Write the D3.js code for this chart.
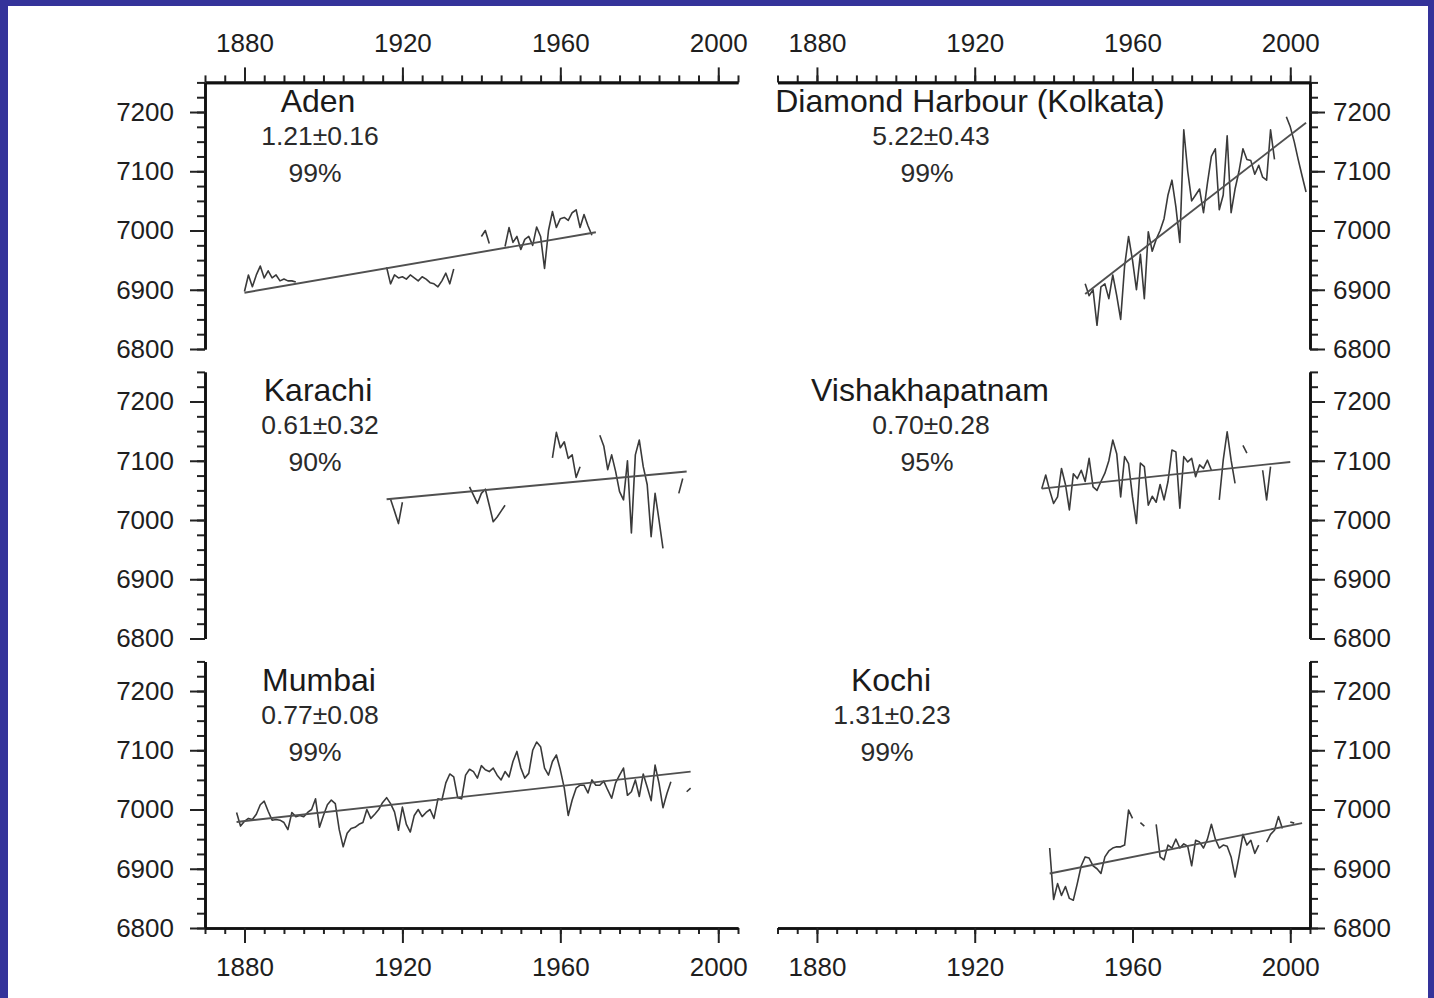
<!DOCTYPE html>
<html><head><meta charset="utf-8">
<script src="https://cdn.jsdelivr.net/npm/d3@7"></script>
<style>
html,body{margin:0;padding:0;background:#fff;}
svg{display:block;}
text{font-family:"Liberation Sans",Arial,Helvetica,sans-serif;}
</style></head><body>
<svg id="chart" width="1434" height="998"></svg>
<script>
// ---------------- DATA ----------------
const stations = ["Aden", "Diamond Harbour (Kolkata)", "Karachi", "Vishakhapatnam", "Mumbai", "Kochi"];
const rateLabels = ["1.21±0.16", "5.22±0.43", "0.61±0.32", "0.70±0.28", "0.77±0.08", "1.31±0.23"];
const confLabels = ["99%", "99%", "90%", "95%", "99%", "99%"];
const xTickYears = [1880, 1920, 1960, 2000];
const yTickValues = [6800, 6900, 7000, 7100, 7200];

// annual mean sea level (mm), consecutive years from the start year; null = gap
const adenStart = 1880;
const adenValues = [6897, 6925, 6905, 6925, 6940, 6920, 6932, 6920, 6925, 6915, 6918, 6915, 6915, 6913,
  null, null, null, null, null, null, null, null, null, null, null, null, null, null, null, null, null, null, null, null, null, null,
  6938, 6910, 6925, 6920, 6922, 6918, 6925, 6920, 6915, 6922, 6918, 6912, 6910, 6905, 6915, 6928, 6910, 6935,
  null, null, null, null, null, null,
  6990, 7000, 6978,
  null, null, null,
  6973, 7005, 6980, 6990, 6968, 6985, 6990, 6975, 7006, 6990, 6936, 7000, 7032, 7005, 7020, 7022, 7017, 7030, 7035, 7005, 7027, 7008, 6992];

const kolkataStart = 1948;
const kolkataValues = [6910, 6890, 6900, 6840, 6905, 6910, 6885, 6925, 6890, 6850, 6940, 6990, 6950, 6900, 6960, 6885,
  6998, 6965, 6985, 7000, 7020, 7060, 7085, 7040, 6980, 7170, 7100, 7050, 7060, 7070, 7030, 7080, 7125, 7138, 7035,
  7060, 7160, 7030, 7070, 7100, 7138, 7120, 7118, 7095, 7110, 7090, 7085, 7170, 7120, null, null,
  7192, 7175, 7150, 7120, 7092, 7065];

const karachiStart = 1917;
const karachiValues = [7035, 7015, 6994, 7030,
  null, null, null, null, null, null, null, null, null, null, null, null, null, null, null, null,
  7056, 7042, 7028, 7045, 7052, 7025, 6997, 7005, 7015, 7025,
  null, null, null, null, null, null, null, null, null, null, null,
  7105, 7148, 7122, 7132, 7104, 7110, 7072, 7090,
  null, null, null, null,
  7143, 7125, 7085, 7110, 7082, 7048, 7034, 7100, 6978, 7110, 7135, 7090, 7060, 6972, 7045, 7000, 6952,
  null, null, null,
  7045, 7070];

const vizagStart = 1937;
const vizagValues = [7053, 7076, 7050, 7028, 7039, 7087, 7060, 7017, 7078, 7070, 7084, 7065, 7104, 7056, 7050, 7065,
  7079, 7100, 7135, 7112, 7039, 7107, 7095, 7039, 6994, 7096, 7090, 7025, 7040, 7030, 7060, 7034, 7065, 7118, 7115,
  7020, 7107, 7098, 7104, 7073, 7093, 7087, 7101, 7084, null, 7034, 7101, 7149, 7101, 7062, null, 7126, 7113,
  null, null, null, 7084, 7034, 7090];

const mumbaiStart = 1878;
const mumbaiValues = [6995, 6972, 6980, 6985, 6983, 6992, 7008, 7014, 6997, 6982, 6983, 6982, 6978, 6966, 6995, 6988,
  6990, 6988, 6995, 7000, 7018, 6970, 6990, 7008, 7016, 7010, 6966, 6937, 6960, 6968, 6970, 6975, 6978, 7000, 6985,
  6992, 7000, 7012, 7020, 7010, 6996, 6965, 7004, 6975, 6962, 6990, 7000, 6988, 6995, 7000, 6985, 7018, 7016, 7045,
  7060, 7055, 7020, 7018, 7058, 7068, 7064, 7053, 7074, 7067, 7064, 7070, 7058, 7050, 7064, 7055, 7081, 7098, 7070,
  7053, 7061, 7100, 7114, 7106, 7070, 7058, 7081, 7092, 7067, 7036, 6990, 7016, 7036, 7041, 7041, 7028, 7050, 7041,
  7041, 7048, 7033, 7019, 7045, 7058, 7070, 7024, 7030, 7050, 7022, 7060, 7038, 7015, 7075, 7044, 7003, 7027, 7047,
  null, null, null, 7030, 7036];

const kochiStart = 1939;
const kochiValues = [6935, 6848, 6875, 6855, 6870, 6850, 6847, 6875, 6905, 6920, 6918, 6905, 6900, 6892, 6920, 6930,
  6935, 6937, 6937, 6940, 6999, 6985, null, 6978, 6972, null, null, 6975, 6920, 6915, 6940, 6935, 6950, 6935, 6942,
  6938, 6905, 6948, 6945, 6935, 6950, 6975, 6950, 6935, 6940, 6938, 6920, 6886, 6920, 6958, 6940, 6948, 6926, 6940,
  null, 6945, 6958, 6965, 6988, 6968, null, 6979, 6977];

// linear trend endpoints: [startYear, endYear], [startValue, endValue]
const adenTrend = [[1880, 1969], [6895, 6997]];
const kolkataTrend = [[1948, 2004], [6893, 7182]];
const karachiTrend = [[1916, 1992], [7035, 7082]];
const vizagTrend = [[1937, 2000], [7053, 7098]];
const mumbaiTrend = [[1878, 1993], [6979, 7064]];
const kochiTrend = [[1939, 2003], [6892, 6977]];

// ---------------- LAYOUT ----------------
const svg = d3.select("#chart");
const W = 1434, H = 998;
const cols = [{x0: 205, x1: 738}, {x0: 777.5, x1: 1310}];
const rowBottoms = [349, 638.5, 928];
const panelH = 266.6;
const xDomain = [1870, 2005];
const yDomain = [6800, 7250];
const xMinor = d3.range(1870, 2006, 5);
const yMinor = d3.range(6800, 7251, 25);

svg.append("rect").attr("x", 0).attr("y", 0).attr("width", W).attr("height", H).attr("fill", "#34339a");
svg.append("rect").attr("x", 8).attr("y", 6).attr("width", W - 14).attr("height", H - 6).attr("fill", "#fff");

const panels = [
  {name: 0, col: 0, row: 0, start: adenStart, values: adenValues, trend: adenTrend, cx: [318, 320, 315]},
  {name: 1, col: 1, row: 0, start: kolkataStart, values: kolkataValues, trend: kolkataTrend, cx: [970, 931, 927]},
  {name: 2, col: 0, row: 1, start: karachiStart, values: karachiValues, trend: karachiTrend, cx: [318, 320, 315]},
  {name: 3, col: 1, row: 1, start: vizagStart, values: vizagValues, trend: vizagTrend, cx: [930, 931, 927]},
  {name: 4, col: 0, row: 2, start: mumbaiStart, values: mumbaiValues, trend: mumbaiTrend, cx: [319, 320, 315]},
  {name: 5, col: 1, row: 2, start: kochiStart, values: kochiValues, trend: kochiTrend, cx: [891, 892, 887]}
];

function styleAxis(g, fontSize) {
  g.attr("font-family", null).attr("font-size", null);
  g.select(".domain").attr("stroke", "#111").attr("stroke-width", 2.6);
  g.selectAll(".tick line").attr("stroke", "#222").attr("stroke-width", 2);
  g.selectAll(".tick text").attr("fill", "#1e1e1e").style("font-size", fontSize + "px");
}

panels.forEach(p => {
  const c = cols[p.col];
  const bottom = rowBottoms[p.row];
  const x = d3.scaleLinear().domain(xDomain).range([c.x0, c.x1]);
  const y = d3.scaleLinear().domain(yDomain).range([bottom, bottom - panelH]);
  const g = svg.append("g");

  // y axis (left for left column, right for right column)
  const yAxisX = p.col === 0 ? c.x0 : c.x1;
  const mkY = p.col === 0 ? d3.axisLeft : d3.axisRight;
  const gyMinor = g.append("g").attr("transform", `translate(${yAxisX},0)`)
    .call(mkY(y).tickValues(yMinor).tickSize(8).tickSizeOuter(0).tickFormat(""));
  styleAxis(gyMinor, 26);
  const gy = g.append("g").attr("transform", `translate(${yAxisX},0)`)
    .call(mkY(y).tickValues(yTickValues).tickSize(15).tickSizeOuter(0)
      .tickPadding(p.col === 0 ? 16 : 8).tickFormat(d3.format("d")));
  styleAxis(gy, 26);

  // x axis on top row (top) and bottom row (bottom)
  if (p.row === 0) {
    const top = bottom - panelH;
    const gxm = g.append("g").attr("transform", `translate(0,${top})`)
      .call(d3.axisTop(x).tickValues(xMinor).tickSize(7).tickSizeOuter(0).tickFormat(""));
    styleAxis(gxm, 26);
    const gx = g.append("g").attr("transform", `translate(0,${top})`)
      .call(d3.axisTop(x).tickValues(xTickYears).tickSize(15).tickSizeOuter(0).tickPadding(15).tickFormat(d3.format("d")));
    styleAxis(gx, 26);
  }
  if (p.row === 2) {
    const gxm = g.append("g").attr("transform", `translate(0,${bottom})`)
      .call(d3.axisBottom(x).tickValues(xMinor).tickSize(6).tickSizeOuter(0).tickFormat(""));
    styleAxis(gxm, 26);
    const gx = g.append("g").attr("transform", `translate(0,${bottom})`)
      .call(d3.axisBottom(x).tickValues(xTickYears).tickSize(15).tickSizeOuter(0).tickPadding(15).tickFormat(d3.format("d")));
    styleAxis(gx, 26);
  }

  // data series
  const pts = p.values.map((v, i) => [p.start + i, v]);
  const line = d3.line().defined(d => d[1] !== null).x(d => x(d[0])).y(d => y(d[1]));
  g.append("path").datum(pts).attr("d", line)
    .attr("fill", "none").attr("stroke", "#3a3a3a").attr("stroke-width", 1.6).attr("stroke-linejoin", "round");

  // trend line
  const tr = p.trend[0].map((yr, i) => [yr, p.trend[1][i]]);
  g.append("path").datum(tr).attr("d", d3.line().x(d => x(d[0])).y(d => y(d[1])))
    .attr("fill", "none").attr("stroke", "#505050").attr("stroke-width", 1.9);

  // labels
  const top = bottom - panelH;
  g.append("text").attr("x", p.cx[0]).attr("y", top + 29.5).attr("text-anchor", "middle")
    .attr("fill", "#1a1a1a").style("font-size", "32px").text(stations[p.name]);
  g.append("text").attr("x", p.cx[1]).attr("y", top + 62.5).attr("text-anchor", "middle")
    .attr("fill", "#2a2a2a").style("font-size", "26.5px").text(rateLabels[p.name]);
  g.append("text").attr("x", p.cx[2]).attr("y", top + 99.5).attr("text-anchor", "middle")
    .attr("fill", "#2a2a2a").style("font-size", "26.5px").text(confLabels[p.name]);
});
</script></body></html>
